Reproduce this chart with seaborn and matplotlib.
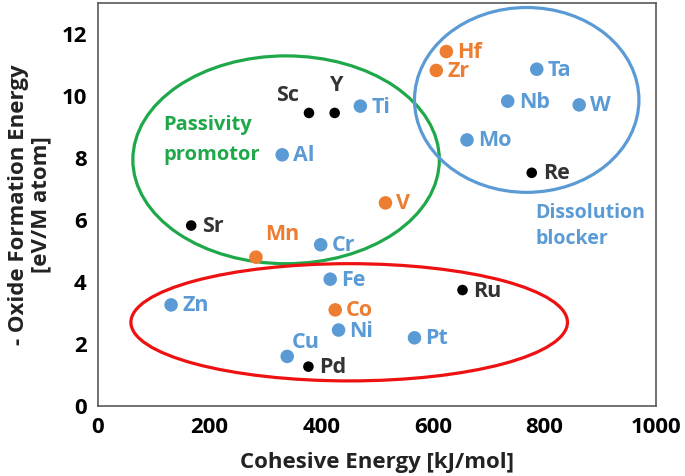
import pandas as pd
import seaborn as sns
from matplotlib import pyplot as plt
from matplotlib.patches import Ellipse

# Values
elements = ['Sc', 'Y', 'Ti', 'Al', 'Sr', 'Mn', 'Cr', 'V',
            'Hf', 'Zr', 'Ta', 'Nb', 'W', 'Mo', 'Re',
            'Fe', 'Zn', 'Co', 'Ni', 'Cu', 'Pd', 'Ru', 'Pt']
cohesive = [378, 424, 470, 330, 167, 283, 399, 515,
            624, 606, 786, 734, 862, 661, 777,
            416, 131, 425, 431, 339, 377, 653, 567]
oxide = [9.45, 9.45, 9.67, 8.1, 5.82, 4.8, 5.2, 6.55,
         11.43, 10.82, 10.86, 9.83, 9.71, 8.58, 7.52,
         4.09, 3.26, 3.1, 2.45, 1.6, 1.27, 3.74, 2.2]
kind = ['black', 'black', 'blue', 'blue', 'black', 'orange', 'blue', 'orange',
        'orange', 'orange', 'blue', 'blue', 'blue', 'blue', 'black',
        'blue', 'blue', 'orange', 'blue', 'blue', 'black', 'black', 'blue']

colors = {'blue': '#5B9BD5', 'orange': '#ED7D31', 'black': '#000000'}
sizes = {'blue': 95, 'orange': 95, 'black': 58}

# label offsets (pixels) for the few labels not placed to the right of the dot
special = {'Sc': (-10, 17, 'right'), 'Y': (2, 27, 'center'),
           'Mn': (26, 23, 'center'), 'Cu': (18, 14, 'center')}

df = pd.DataFrame({'Element': elements, 'Cohesive': cohesive,
                   'Oxide': oxide, 'Kind': kind})

sns.set_theme(style='white')
plt.rcParams['font.family'] = ['Open Sans', 'DejaVu Sans']
plt.rcParams['font.weight'] = 'bold'

fig, ax = plt.subplots(figsize=(6.85, 4.76), dpi=100)
fig.subplots_adjust(left=0.143, right=0.958, bottom=0.147, top=0.994)

# region ellipses
ax.add_patch(Ellipse((337, 7.94), 549, 6.7, fill=False, ec='#1FA84A', lw=2.3, zorder=1))
ax.add_patch(Ellipse((768, 9.87), 402, 5.96, fill=False, ec='#5B9BD5', lw=2.3, zorder=1))
ax.add_patch(Ellipse((450, 2.7), 782, 3.78, fill=False, ec='#EE1111', lw=2.3, zorder=1))

sns.scatterplot(data=df, x='Cohesive', y='Oxide', hue='Kind', palette=colors,
                size='Kind', sizes=sizes, linewidth=0, legend=False, ax=ax, zorder=3)

for el, x, y, k in zip(elements, cohesive, oxide, kind):
    dx, dy, ha = special.get(el, (11, -1, 'left'))
    c = '#333333' if k == 'black' else colors[k]
    ax.annotate(el, (x, y), xytext=(dx, dy), textcoords='offset pixels',
                ha=ha, va='center', fontsize=15.5, fontweight='bold', color=c)

ax.text(117, 9.06, 'Passivity', color='#1FA84A', fontsize=14.5, fontweight='bold', va='center')
ax.text(117, 8.1, 'promotor', color='#1FA84A', fontsize=14.5, fontweight='bold', va='center')
ax.text(784, 6.24, 'Dissolution', color='#5B9BD5', fontsize=14, fontweight='bold', va='center')
ax.text(784, 5.37, 'blocker', color='#5B9BD5', fontsize=14, fontweight='bold', va='center')

ax.set_xlim(0, 1000)
ax.set_ylim(0, 13)
ax.set_xticks(range(0, 1001, 200))
ax.set_yticks(range(0, 13, 2))
ax.tick_params(direction='in', length=6, width=1, labelsize=16, colors='#595959',
               labelcolor='black', pad=8)
for sp in ax.spines.values():
    sp.set_color('#595959')
    sp.set_linewidth(1.2)

ax.set_xlabel('Cohesive Energy [kJ/mol]', fontsize=16, fontweight='bold', color='#222222',
              labelpad=10)
ax.set_ylabel('- Oxide Formation Energy\n[eV/M atom]', fontsize=16, fontweight='bold',
              color='#222222', linespacing=1.1, labelpad=7)

plt.savefig('out.png', dpi=100)
